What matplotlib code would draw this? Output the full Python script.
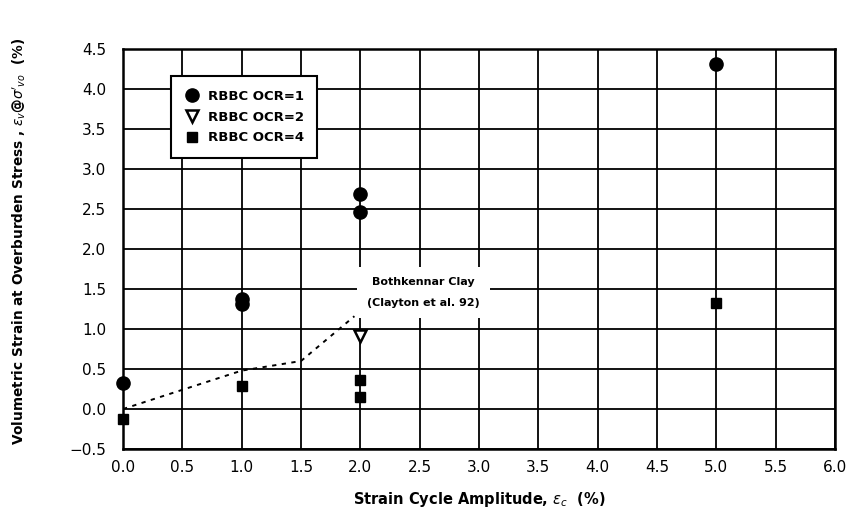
import matplotlib.pyplot as plt

# volumetric strain vs strain cycle amplitude (RBBC)

ocr1_x = [0.0, 1.0, 1.0, 2.0, 2.0, 5.0]
ocr1_y = [0.33, 1.375, 1.31, 2.69, 2.46, 4.31]

ocr2_x = [2.0]
ocr2_y = [0.91]

ocr4_x = [0.0, 1.0, 2.0, 2.0, 5.0]
ocr4_y = [-0.12, 0.29, 0.36, 0.15, 1.33]

# Bothkennar clay (Clayton et al. 92)
both_x = [0.0, 1.0, 1.5, 1.95]
both_y = [0.0, 0.48, 0.6, 1.16]

xticks = [0.0, 0.5, 1.0, 1.5, 2.0, 2.5, 3.0, 3.5, 4.0, 4.5, 5.0, 5.5, 6.0]
yticks = [-0.5, 0.0, 0.5, 1.0, 1.5, 2.0, 2.5, 3.0, 3.5, 4.0, 4.5]

fig = plt.figure(figsize=(8.49, 5.17), dpi=100)
ax = fig.add_axes([0.1449, 0.1315, 0.8386, 0.7737])

ax.set_xlim(0, 6)
ax.set_ylim(-0.5, 4.5)
ax.set_xticks(xticks)
ax.set_yticks(yticks)
ax.set_xticklabels(['%.1f' % v for v in xticks])
ax.set_yticklabels([('%.1f' % v).replace('-', '\u2212') for v in yticks])
ax.tick_params(length=0, labelsize=11)
ax.tick_params(axis='x', pad=8)
ax.tick_params(axis='y', pad=12)
ax.grid(True, color='black', linewidth=1.3)
ax.set_axisbelow(True)
for s in ax.spines.values():
    s.set_linewidth(1.8)

ax.plot(both_x, both_y, linestyle=(0, (2.2, 2.8)), color='black', linewidth=1.4, zorder=4)

h1, = ax.plot(ocr1_x, ocr1_y, 'o', color='black', markersize=9.5, linestyle='none',
              zorder=5, clip_on=False)
h2, = ax.plot(ocr2_x, ocr2_y, 'v', markerfacecolor='white', markeredgecolor='black',
              markeredgewidth=1.8, markersize=9, linestyle='none', zorder=5, clip_on=False)
h3, = ax.plot(ocr4_x, ocr4_y, 's', color='black', markersize=7, linestyle='none',
              zorder=5, clip_on=False)

ax.text(2.53, 1.46, 'Bothkennar Clay\n\n(Clayton et al. 92)', ha='center', va='center',
        fontsize=8, fontweight='bold', linespacing=1.05, zorder=3,
        bbox=dict(facecolor='white', edgecolor='none', boxstyle='square,pad=0.9'))

leg = ax.legend([h1, h2, h3], ['RBBC OCR=1', 'RBBC OCR=2', 'RBBC OCR=4'],
                loc='upper left', bbox_to_anchor=(0.058, 0.948), fancybox=False,
                framealpha=1, edgecolor='black', prop={'weight': 'bold', 'size': 9.5},
                handletextpad=0.6, borderpad=1.0, labelspacing=0.6, handlelength=1.2)
leg.get_frame().set_linewidth(1.5)
leg.set_zorder(6)

ax.set_xlabel(r"Strain Cycle Amplitude, $\varepsilon_c$  (%)", fontsize=10.5,
              fontweight='bold', labelpad=11)
ax.set_ylabel(r"Volumetric Strain at Overburden Stress , $\varepsilon_v$@$\sigma'_{vo}$  (%)",
              fontsize=9.8, fontweight='bold')
ax.yaxis.set_label_coords(-0.133, 0.52)

fig.savefig('out.png', dpi=100)
